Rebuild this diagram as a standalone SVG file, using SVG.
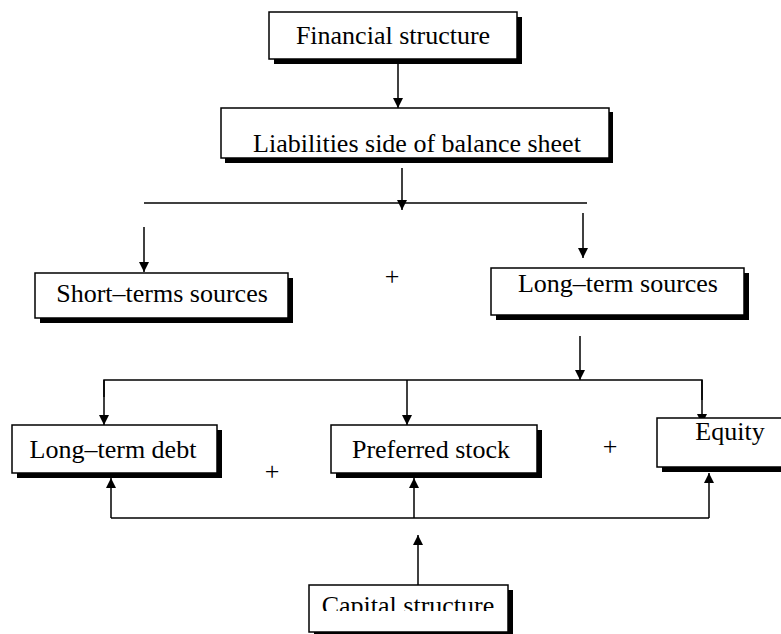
<svg xmlns="http://www.w3.org/2000/svg" width="781" height="634" viewBox="0 0 781 634">
  <style>
    .box { fill: #ffffff; stroke: #000000; stroke-width: 1.5; }
    .shadow { fill: #000000; }
    .label { font-family: "Liberation Serif", "Times New Roman", serif; font-size: 26px; fill: #000000; text-anchor: middle; }
    .wire { fill: none; stroke: #000000; stroke-width: 1.5; }
    .arrow { fill: none; stroke: #000000; stroke-width: 1.5; marker-end: url(#head); }
  </style>
  <defs>
    <marker id="head" viewBox="0 0 10 10" refX="10" refY="5" markerWidth="10" markerHeight="10" markerUnits="userSpaceOnUse" orient="auto">
      <path d="M0,0 L10,5 L0,10 Z" fill="#000000"/>
    </marker>
    <clipPath id="capClip">
      <rect x="309" y="585" width="199" height="26"/>
    </clipPath>
  </defs>
  <rect width="781" height="634" fill="#ffffff"/>

  <g id="connectors">
    <line class="arrow" x1="398" y1="59" x2="398" y2="108"/>
    <line class="arrow" x1="402" y1="168" x2="402" y2="210"/>
    <line class="wire" x1="144" y1="203" x2="587" y2="203"/>
    <line class="arrow" x1="144" y1="227" x2="144" y2="272"/>
    <line class="arrow" x1="583" y1="213" x2="583" y2="258"/>
    <line class="arrow" x1="580" y1="336" x2="580" y2="380"/>
    <polyline class="wire" points="104,397 104,380 702,380 702,400"/>
    <line class="arrow" x1="104" y1="380" x2="104" y2="425"/>
    <line class="arrow" x1="407" y1="380" x2="407" y2="425"/>
    <line class="arrow" x1="702" y1="380" x2="702" y2="424"/>
    <line class="wire" x1="111" y1="518" x2="709" y2="518"/>
    <line class="arrow" x1="111" y1="518" x2="111" y2="478"/>
    <line class="arrow" x1="414" y1="518" x2="414" y2="478"/>
    <line class="arrow" x1="709" y1="518" x2="709" y2="473"/>
    <line class="arrow" x1="418" y1="585" x2="418" y2="535"/>
  </g>

  <g id="financial-structure">
    <rect class="shadow" x="274" y="17" width="248" height="47"/>
    <rect class="box" x="269" y="12" width="248" height="47"/>
    <text class="label" x="393" y="44">Financial structure</text>
  </g>

  <g id="liabilities">
    <rect class="shadow" x="225" y="112" width="388" height="51"/>
    <rect class="box" x="221" y="108" width="388" height="50"/>
    <text class="label" x="417" y="152">Liabilities side of balance sheet</text>
  </g>

  <g id="short-term-sources">
    <rect class="shadow" x="40" y="278" width="253" height="45"/>
    <rect class="box" x="35" y="273" width="253" height="45"/>
    <text class="label" x="162" y="302">Short–terms sources</text>
  </g>

  <g id="plus-sources">
    <text class="label" x="392" y="285">+</text>
  </g>

  <g id="long-term-sources">
    <rect class="shadow" x="496" y="273" width="253" height="47"/>
    <rect class="box" x="491" y="268" width="253" height="47"/>
    <text class="label" x="618" y="292">Long–term sources</text>
  </g>

  <g id="long-term-debt">
    <rect class="shadow" x="17" y="430" width="205" height="48"/>
    <rect class="box" x="12" y="425" width="205" height="48"/>
    <text class="label" x="113" y="458">Long–term debt</text>
  </g>

  <g id="plus-debt">
    <text class="label" x="272" y="480">+</text>
  </g>

  <g id="preferred-stock">
    <rect class="shadow" x="336" y="430" width="206" height="48"/>
    <rect class="box" x="331" y="425" width="206" height="48"/>
    <text class="label" x="431" y="458">Preferred stock</text>
  </g>

  <g id="plus-preferred">
    <text class="label" x="610" y="455">+</text>
  </g>

  <g id="equity">
    <rect class="shadow" x="662" y="423" width="150" height="49"/>
    <rect class="box" x="657" y="418" width="150" height="49"/>
    <text class="label" x="730" y="440">Equity</text>
  </g>

  <g id="capital-structure">
    <rect class="shadow" x="314" y="590" width="199" height="47"/>
    <rect class="box" x="309" y="585" width="199" height="47"/>
    <text class="label" x="408" y="614" clip-path="url(#capClip)">Capital structure</text>
  </g>
</svg>
